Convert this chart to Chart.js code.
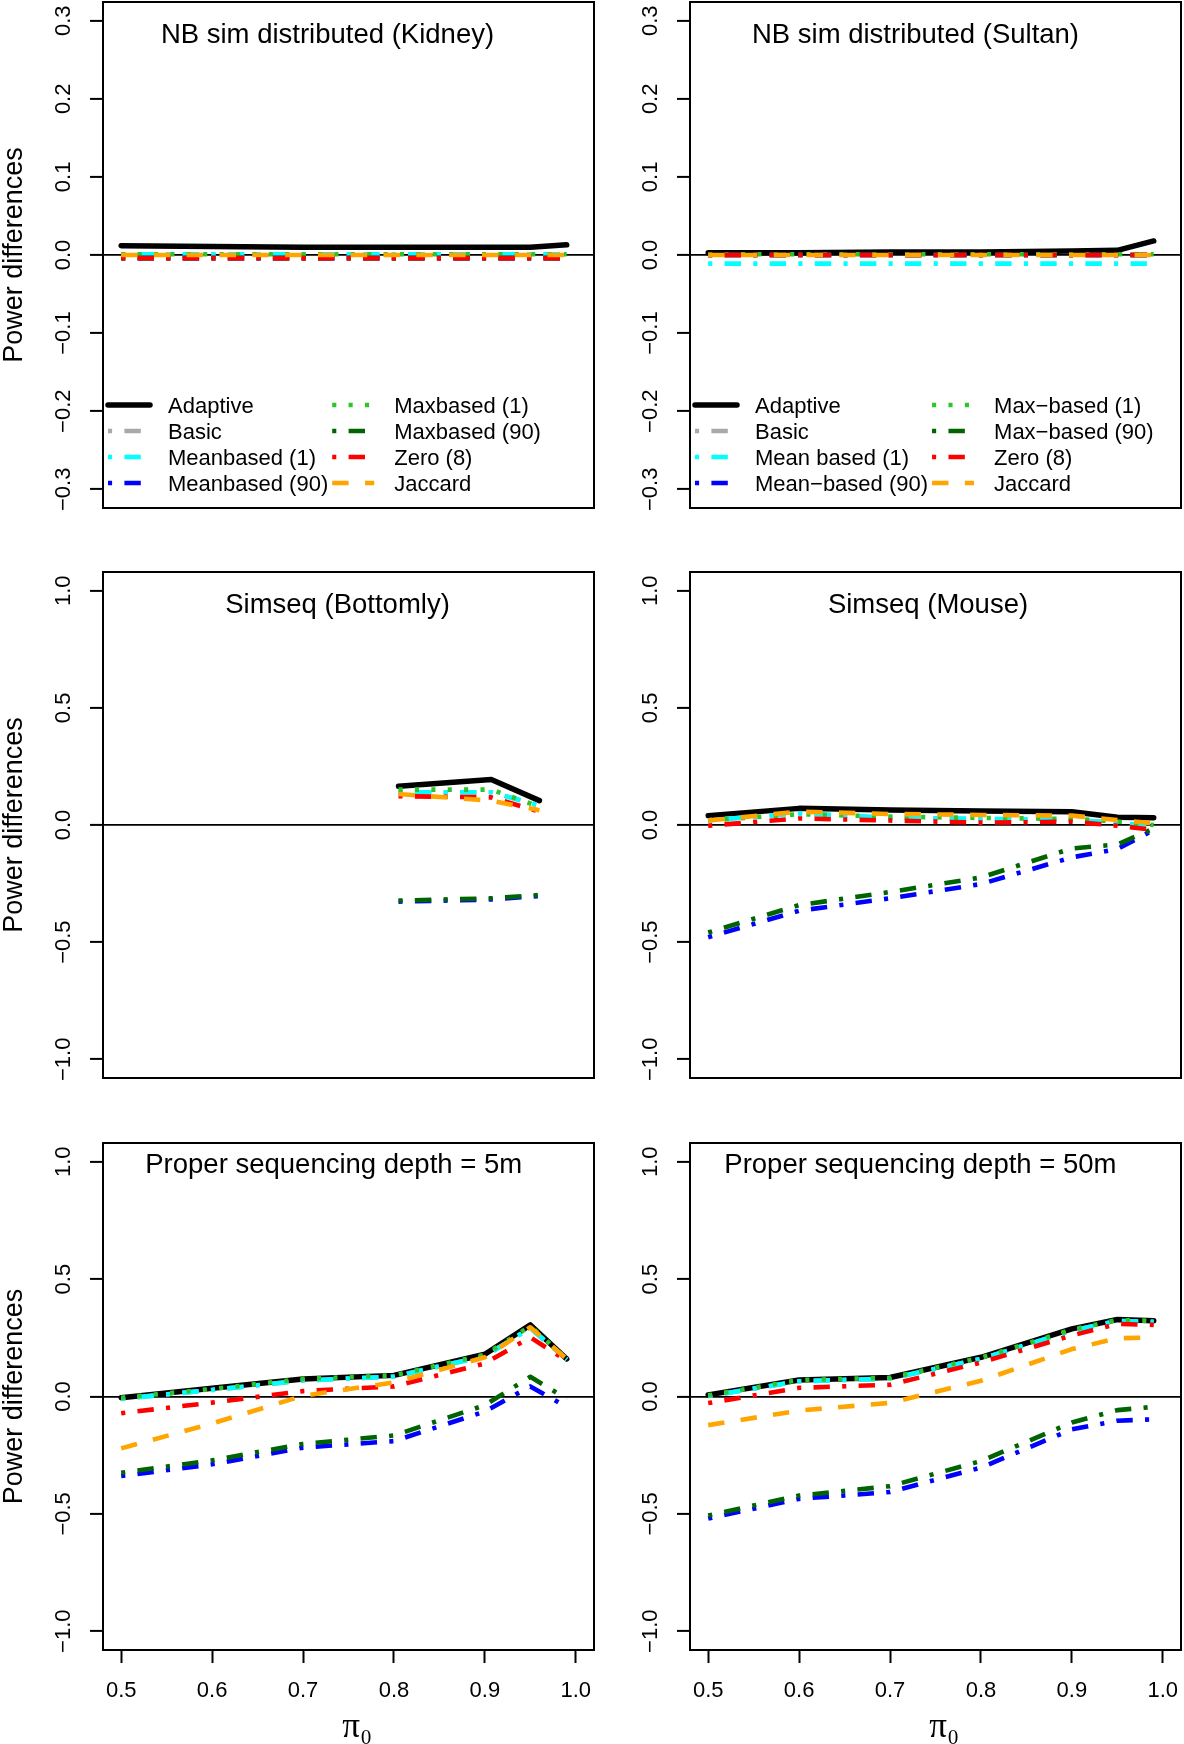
<!DOCTYPE html>
<html>
<head>
<meta charset="utf-8">
<script src="https://cdn.jsdelivr.net/npm/chart.js@4.4.1/dist/chart.umd.min.js"></script>
<style>
html,body{margin:0;padding:0;background:#fff;}
#wrap{position:relative;width:1184px;height:1744px;overflow:hidden;background:#fff;}
#wrap canvas{position:absolute;}
</style>
</head>
<body>
<div id="wrap"></div>
<script>
// ---------------- DATA ----------------
const PI_FULL = [0.5, 0.6, 0.7, 0.8, 0.9, 0.95, 0.99];
const PI_BOTTOMLY = [0.805, 0.907, 0.96];

const X_TICKS = [0.5, 0.6, 0.7, 0.8, 0.9, 1.0];
const X_LABELS = ['0.5', '0.6', '0.7', '0.8', '0.9', '1.0'];
const Y_TICKS_SMALL = [-0.3, -0.2, -0.1, 0, 0.1, 0.2, 0.3];
const Y_LABELS_SMALL = ['\u22120.3', '\u22120.2', '\u22120.1', '0.0', '0.1', '0.2', '0.3'];
const Y_TICKS_LARGE = [-1, -0.5, 0, 0.5, 1];
const Y_LABELS_LARGE = ['\u22121.0', '\u22120.5', '0.0', '0.5', '1.0'];

const LEGEND_KIDNEY = ['Adaptive', 'Basic', 'Meanbased (1)', 'Meanbased (90)', 'Maxbased (1)', 'Maxbased (90)', 'Zero (8)', 'Jaccard'];
const LEGEND_SULTAN = ['Adaptive', 'Basic', 'Mean based (1)', 'Mean\u2212based (90)', 'Max\u2212based (1)', 'Max\u2212based (90)', 'Zero (8)', 'Jaccard'];

const TITLES = ['NB sim distributed (Kidney)', 'NB sim distributed (Sultan)', 'Simseq (Bottomly)', 'Simseq (Mouse)', 'Proper sequencing depth = 5m', 'Proper sequencing depth = 50m'];
const Y_TITLE = 'Power differences';
const X_TITLE = '\u2002\u03c0\u2080';

// NB sim distributed (Kidney)
const kidneyAdaptive = [0.012, 0.011, 0.010, 0.010, 0.010, 0.010, 0.013];
const kidneyBasic    = [0.001, 0.001, 0.001, 0.001, 0.001, 0.001, 0.001];
const kidneyMean1    = [0.001, 0.001, 0.001, 0.001, 0.001, 0.001, 0.001];
const kidneyMean90   = [-0.004, -0.004, -0.004, -0.004, -0.004, -0.004, -0.004];
const kidneyMax1     = [0.001, 0.001, 0.001, 0.001, 0.001, 0.001, 0.001];
const kidneyMax90    = [-0.004, -0.004, -0.004, -0.004, -0.004, -0.004, -0.004];
const kidneyZero8    = [-0.004, -0.004, -0.004, -0.004, -0.004, -0.004, -0.004];
const kidneyJaccard  = [0.000, 0.000, 0.000, 0.000, 0.000, 0.000, 0.000];

// NB sim distributed (Sultan)
const sultanAdaptive = [0.003, 0.003, 0.004, 0.004, 0.005, 0.006, 0.018];
const sultanBasic    = [0.000, 0.000, 0.000, 0.000, 0.000, 0.000, 0.000];
const sultanMean1    = [-0.011, -0.011, -0.011, -0.011, -0.011, -0.011, -0.011];
const sultanMean90   = [0.000, 0.000, 0.000, 0.000, 0.000, 0.000, 0.000];
const sultanMax1     = [0.001, 0.001, 0.001, 0.001, 0.001, 0.001, 0.001];
const sultanMax90    = [0.000, 0.000, 0.000, 0.000, 0.000, 0.000, 0.000];
const sultanZero8    = [0.000, 0.000, 0.000, 0.000, 0.000, 0.000, 0.000];
const sultanJaccard  = [0.000, 0.000, 0.000, 0.000, 0.000, 0.000, 0.000];

// Simseq (Bottomly)
const bottomlyAdaptive = [0.165, 0.194, 0.104];
const bottomlyBasic    = [0.140, 0.140, 0.083];
const bottomlyMean1    = [0.140, 0.140, 0.083];
const bottomlyMean90   = [-0.327, -0.318, -0.303];
const bottomlyMax1     = [0.151, 0.151, 0.078];
const bottomlyMax90    = [-0.323, -0.313, -0.299];
const bottomlyZero8    = [0.123, 0.118, 0.057];
const bottomlyJaccard  = [0.132, 0.104, 0.063];

// Simseq (Mouse)
const mouseAdaptive = [0.040, 0.071, 0.064, 0.060, 0.057, 0.033, 0.031];
const mouseBasic    = [0.020, 0.050, 0.030, 0.026, 0.021, 0.010, -0.007];
const mouseMean1    = [0.020, 0.050, 0.030, 0.026, 0.021, 0.010, -0.007];
const mouseMean90   = [-0.479, -0.366, -0.313, -0.252, -0.138, -0.103, -0.021];
const mouseMax1     = [0.020, 0.046, 0.036, 0.030, 0.026, 0.015, 0.000];
const mouseMax90    = [-0.459, -0.342, -0.286, -0.224, -0.100, -0.083, -0.015];
const mouseZero8    = [-0.003, 0.028, 0.019, 0.010, 0.014, -0.003, -0.021];
const mouseJaccard  = [0.019, 0.057, 0.047, 0.043, 0.040, 0.021, 0.007];

// Proper sequencing depth = 5m
const depth5Adaptive = [-0.005, 0.035, 0.075, 0.090, 0.180, 0.305, 0.160];
const depth5Basic    = [-0.010, 0.028, 0.068, 0.085, 0.172, 0.292, 0.158];
const depth5Mean1    = [-0.010, 0.028, 0.068, 0.085, 0.172, 0.292, 0.158];
const depth5Mean90   = [-0.339, -0.289, -0.218, -0.190, -0.064, 0.043, -0.045];
const depth5Max1     = [-0.005, 0.032, 0.075, 0.090, 0.178, 0.300, 0.160];
const depth5Max90    = [-0.325, -0.272, -0.202, -0.166, -0.037, 0.084, -0.010];
const depth5Zero8    = [-0.071, -0.026, 0.023, 0.043, 0.141, 0.252, 0.152];
const depth5Jaccard  = [-0.221, -0.115, 0.003, 0.060, 0.167, 0.295, 0.160];

// Proper sequencing depth = 50m
const depth50Adaptive = [0.007, 0.070, 0.081, 0.167, 0.288, 0.328, 0.323];
const depth50Basic    = [0.002, 0.065, 0.076, 0.160, 0.280, 0.322, 0.318];
const depth50Mean1    = [0.002, 0.065, 0.076, 0.160, 0.280, 0.322, 0.318];
const depth50Mean90   = [-0.520, -0.436, -0.407, -0.303, -0.140, -0.103, -0.097];
const depth50Max1     = [0.005, 0.070, 0.080, 0.165, 0.285, 0.326, 0.322];
const depth50Max90    = [-0.507, -0.422, -0.382, -0.275, -0.111, -0.058, -0.044];
const depth50Zero8    = [-0.028, 0.037, 0.050, 0.145, 0.260, 0.309, 0.305];
const depth50Jaccard  = [-0.122, -0.060, -0.027, 0.067, 0.202, 0.248, 0.252];

// ---------------- STYLES ----------------
const FONT = '"Liberation Sans", Arial, Helvetica, sans-serif';
const U = 4.1;
const LW = 4.6;
const DOTDASH = [U, 3 * U, 4 * U, 3 * U];
const DOTTED = [U, 3 * U];
const DASHED = [4 * U, 4 * U];
const STYLES = [
  { color: '#000000', width: 5.5, dash: [], cap: 'round' },
  { color: '#A9A9A9', width: LW, dash: DOTDASH, cap: 'butt' },
  { color: '#00FFFF', width: LW, dash: DOTDASH, cap: 'butt' },
  { color: '#0000FF', width: LW, dash: DOTDASH, cap: 'butt' },
  { color: '#2CC52C', width: LW, dash: DOTTED, cap: 'butt' },
  { color: '#006400', width: LW, dash: DOTDASH, cap: 'butt' },
  { color: '#FF0000', width: LW, dash: DOTDASH, cap: 'butt' },
  { color: '#FFA500', width: LW, dash: DASHED, cap: 'butt' }
];

const PANELS = [
  { title: TITLES[0], x: PI_FULL, series: [kidneyAdaptive, kidneyBasic, kidneyMean1, kidneyMean90, kidneyMax1, kidneyMax90, kidneyZero8, kidneyJaccard],
    labels: LEGEND_KIDNEY, legend: true, yTicks: Y_TICKS_SMALL, yLabels: Y_LABELS_SMALL, yLim: 0.324,
    left: 0, top: 0, height: 570, titleX: 327.5, titleY: 43, yTitle: true, xAxis: false },
  { title: TITLES[1], x: PI_FULL, series: [sultanAdaptive, sultanBasic, sultanMean1, sultanMean90, sultanMax1, sultanMax90, sultanZero8, sultanJaccard],
    labels: LEGEND_SULTAN, legend: true, yTicks: Y_TICKS_SMALL, yLabels: Y_LABELS_SMALL, yLim: 0.324,
    left: 587, top: 0, height: 570, titleX: 328.5, titleY: 43, yTitle: false, xAxis: false },
  { title: TITLES[2], x: PI_BOTTOMLY, series: [bottomlyAdaptive, bottomlyBasic, bottomlyMean1, bottomlyMean90, bottomlyMax1, bottomlyMax90, bottomlyZero8, bottomlyJaccard],
    labels: LEGEND_KIDNEY, legend: false, yTicks: Y_TICKS_LARGE, yLabels: Y_LABELS_LARGE, yLim: 1.08,
    left: 0, top: 570, height: 570, titleX: 337.5, titleY: 43, yTitle: true, xAxis: false },
  { title: TITLES[3], x: PI_FULL, series: [mouseAdaptive, mouseBasic, mouseMean1, mouseMean90, mouseMax1, mouseMax90, mouseZero8, mouseJaccard],
    labels: LEGEND_KIDNEY, legend: false, yTicks: Y_TICKS_LARGE, yLabels: Y_LABELS_LARGE, yLim: 1.08,
    left: 587, top: 570, height: 570, titleX: 341, titleY: 43, yTitle: false, xAxis: false },
  { title: TITLES[4], x: PI_FULL, series: [depth5Adaptive, depth5Basic, depth5Mean1, depth5Mean90, depth5Max1, depth5Max90, depth5Zero8, depth5Jaccard],
    labels: LEGEND_KIDNEY, legend: false, yTicks: Y_TICKS_LARGE, yLabels: Y_LABELS_LARGE, yLim: 1.08,
    left: 0, top: 1141, height: 603, titleX: 333.7, titleY: 32, yTitle: true, xAxis: true },
  { title: TITLES[5], x: PI_FULL, series: [depth50Adaptive, depth50Basic, depth50Mean1, depth50Mean90, depth50Max1, depth50Max90, depth50Zero8, depth50Jaccard],
    labels: LEGEND_KIDNEY, legend: false, yTicks: Y_TICKS_LARGE, yLabels: Y_LABELS_LARGE, yLim: 1.08,
    left: 587, top: 1141, height: 603, titleX: 333.4, titleY: 32, yTitle: false, xAxis: true }
];

// frame, in-plot title and legend
const decor = {
  id: 'decor',
  afterDraw(chart, args, opts) {
    const { ctx, chartArea: a } = chart;
    ctx.save();
    ctx.setLineDash([]);
    ctx.lineWidth = 2;
    ctx.strokeStyle = '#000';
    ctx.strokeRect(a.left, a.top, a.right - a.left, a.bottom - a.top);
    ctx.fillStyle = '#000';
    ctx.font = '27.5px ' + FONT;
    ctx.textAlign = 'center';
    ctx.textBaseline = 'alphabetic';
    ctx.fillText(opts.title, opts.titleX, opts.titleY);
    if (opts.legend) {
      const ds = chart.data.datasets;
      ctx.font = '22px ' + FONT;
      ctx.textAlign = 'left';
      const col0X = 108, seg = 42;
      const w0 = Math.max(...ds.slice(0, 4).map(d => ctx.measureText(d.label).width));
      const col1X = col0X + 60 + w0 + 4;
      ds.forEach((d, i) => {
        const col = i < 4 ? 0 : 1;
        const r = i % 4;
        const x0 = col ? col1X : col0X;
        const y = 405 + r * 26;
        ctx.beginPath();
        ctx.setLineDash(d.borderDash || []);
        ctx.lineDashOffset = 0;
        ctx.lineCap = d.borderCapStyle;
        ctx.lineWidth = d.borderWidth;
        ctx.strokeStyle = d.borderColor;
        ctx.moveTo(x0, y);
        ctx.lineTo(x0 + seg, y);
        ctx.stroke();
        ctx.setLineDash([]);
        ctx.fillText(d.label, x0 + (col ? 62 : 60), y + 8);
      });
    }
    ctx.restore();
  }
};

const wrap = document.getElementById('wrap');
PANELS.forEach(p => {
  const canvas = document.createElement('canvas');
  canvas.width = 597;
  canvas.height = p.height;
  canvas.style.left = p.left + 'px';
  canvas.style.top = p.top + 'px';
  wrap.appendChild(canvas);
  const n = p.series.length;
  const datasets = p.series.map((vals, i) => ({
    label: p.labels[i],
    data: p.x.map((xv, j) => ({ x: xv, y: vals[j] })),
    borderColor: STYLES[i].color,
    borderWidth: STYLES[i].width,
    borderDash: STYLES[i].dash,
    borderCapStyle: STYLES[i].cap,
    borderJoinStyle: 'round',
    pointRadius: 0,
    pointHoverRadius: 0,
    tension: 0,
    fill: false,
    order: n - 1 - i
  }));
  new Chart(canvas, {
    type: 'line',
    data: { datasets },
    plugins: [decor],
    options: {
      responsive: false,
      animation: false,
      devicePixelRatio: 1,
      events: [],
      layout: { padding: { top: 2, right: 3, left: 0, bottom: p.xAxis ? 0 : 62 } },
      plugins: {
        legend: { display: false },
        tooltip: { enabled: false },
        decor: { title: p.title, titleX: p.titleX, titleY: p.titleY, legend: p.legend }
      },
      scales: {
        x: {
          type: 'linear', min: 0.48, max: 1.02, position: 'bottom', display: p.xAxis,
          afterBuildTicks: s => { s.ticks = X_TICKS.map(v => ({ value: v })); },
          afterFit: s => { s.height = p.xAxis ? 94 : 0; s.paddingLeft = 0; s.paddingRight = 0; },
          ticks: { autoSkip: false, maxRotation: 0, minRotation: 0, padding: 15, color: '#000',
                   font: { family: FONT, size: 22 }, callback: (v, i) => X_LABELS[i] },
          grid: { drawOnChartArea: false, drawTicks: true, tickLength: 13, tickColor: '#000', tickWidth: 2, color: 'rgba(0,0,0,0)' },
          border: { display: false },
          title: { display: true, text: X_TITLE, color: '#000',
                   font: { family: '"Liberation Serif", "DejaVu Serif", serif', size: 35, lineHeight: 1 },
                   padding: { top: 0, bottom: -1 } }
        },
        y: {
          type: 'linear', min: -p.yLim, max: p.yLim, position: 'left',
          afterBuildTicks: s => { s.ticks = p.yTicks.map(v => ({ value: v })); },
          afterFit: s => { s.width = 103; s.paddingTop = 0; s.paddingBottom = 0; },
          ticks: { autoSkip: false, minRotation: 90, maxRotation: 90, crossAlign: 'center', padding: 4, color: '#000',
                   font: { family: FONT, size: 22 }, callback: (v, i) => p.yLabels[i] },
          grid: { drawOnChartArea: true, drawTicks: true, tickLength: 13, tickColor: '#000', tickWidth: 2, lineWidth: 1.8,
                  color: c => (c.tick && c.tick.value === 0) ? '#000' : 'rgba(0,0,0,0)' },
          border: { display: false },
          title: { display: p.yTitle, text: Y_TITLE, color: '#000',
                   font: { family: FONT, size: 27, lineHeight: 1 }, padding: { top: 1, bottom: 0 } }
        }
      }
    }
  });
});
</script>
</body>
</html>
